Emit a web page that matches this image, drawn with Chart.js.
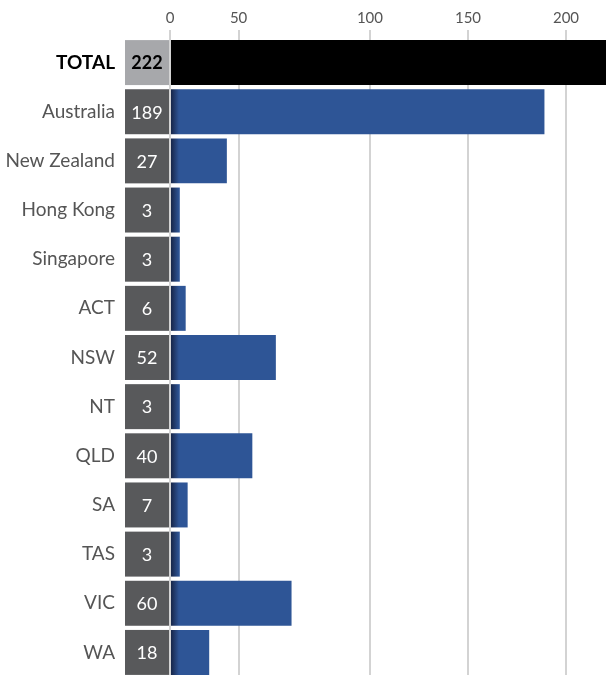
<!DOCTYPE html>
<html>
<head>
<meta charset="utf-8">
<script src="https://cdn.jsdelivr.net/npm/chart.js@4.4.1/dist/chart.umd.min.js"></script>
<style>
  html, body { margin: 0; padding: 0; background: #fff; overflow: hidden; }
  #wrap { width: 606px; height: 677px; }
</style>
</head>
<body>
<div id="wrap"><canvas id="c" width="606" height="677"></canvas></div>
<script>
const categories = ['TOTAL','Australia','New Zealand','Hong Kong','Singapore','ACT','NSW','NT','QLD','SA','TAS','VIC','WA'];
const values = [222,189,27,3,3,6,52,3,40,7,3,60,18];
const tickValues = [-2, 33, 100, 150, 200];
const tickLabels = ['0','50','100','150','200'];

const FONT = 'Lato';
const BLUE = '#2e5596';

const boxPlugin = {
  id: 'valueBoxes',
  afterDatasetsDraw(chart) {
    const ctx = chart.ctx;
    const meta = chart.getDatasetMeta(0);
    const left = chart.chartArea.left;
    ctx.save();
    meta.data.forEach((bar, i) => {
      const h = bar.height;
      const top = bar.y - h / 2;
      const isTotal = i === 0;
      ctx.fillStyle = isTotal ? '#a7a8ab' : '#58595b';
      ctx.fillRect(left - 45, top, 44, h);
      ctx.fillStyle = isTotal ? '#000' : '#fff';
      ctx.font = (isTotal ? 'bold ' : '') + '18px ' + FONT;
      ctx.textAlign = 'center';
      ctx.textBaseline = 'middle';
      ctx.fillText(String(values[i]), left - 23, bar.y + 1);
    });
    ctx.restore();
  }
};

new Chart(document.getElementById('c'), {
  type: 'bar',
  data: {
    labels: categories,
    datasets: [{
      data: values,
      base: -2,
      backgroundColor: (c) => {
        if (c.dataIndex === 0) return '#000';
        const chart = c.chart;
        const area = chart.chartArea;
        if (!area) return BLUE;
        const g = chart.ctx.createLinearGradient(area.left, 0, area.left + 9, 0);
        g.addColorStop(0, '#14213f');
        g.addColorStop(0.4, '#1f3562');
        g.addColorStop(1, BLUE);
        return g;
      },
      borderWidth: 0,
      categoryPercentage: 1,
      barPercentage: 0.915
    }]
  },
  options: {
    indexAxis: 'y',
    responsive: false,
    animation: false,
    layout: { padding: 0 },
    plugins: { legend: { display: false }, tooltip: { enabled: false } },
    scales: {
      x: {
        position: 'top',
        min: -2,
        max: 220.4,
        z: 1,
        border: { display: false },
        grid: { color: '#d3d3d3', lineWidth: 2, drawTicks: true, tickLength: 8, tickColor: '#d3d3d3' },
        afterBuildTicks: (s) => { s.ticks = tickValues.map(v => ({ value: v })); },
        afterFit: (s) => { s.height = 38; s.paddingLeft = 0; s.paddingRight = 0; },
        ticks: {
          padding: 3,
          color: '#555',
          font: { family: FONT, size: 15 },
          callback: (v, i) => tickLabels[i]
        }
      },
      y: {
        border: { display: false },
        grid: { display: false, drawTicks: true, tickLength: 55 },
        afterFit: (s) => { s.width = 170; s.paddingTop = 0; s.paddingBottom = 0; },
        ticks: {
          padding: 0,
          color: (c) => c.index === 0 ? '#000' : '#555',
          font: (c) => ({ family: FONT, size: 19, weight: c.index === 0 ? 'bold' : 'normal' })
        }
      }
    }
  },
  plugins: [boxPlugin]
});
</script>
</body>
</html>
